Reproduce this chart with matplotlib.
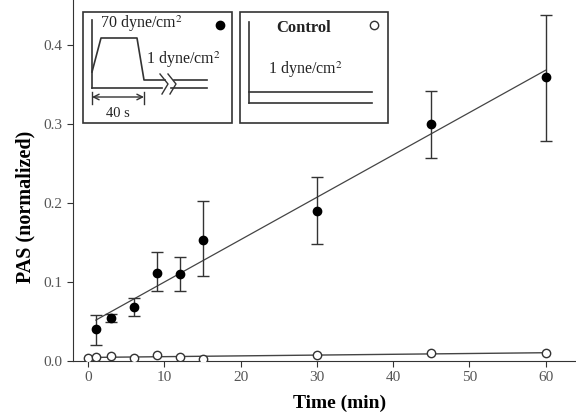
import numpy as np
import matplotlib
matplotlib.use("Agg")
import matplotlib.pyplot as plt
from matplotlib.patches import Rectangle

plt.rcParams['font.family'] = ['Liberation Serif', 'DejaVu Serif']
plt.rcParams['mathtext.fontset'] = 'stix'

# Data
time_shear = [1, 3, 6, 9, 12, 15, 30, 45, 60]
pas_shear = [0.040, 0.055, 0.068, 0.112, 0.110, 0.153, 0.190, 0.300, 0.360]
err_lo = [0.020, 0.005, 0.011, 0.024, 0.022, 0.046, 0.042, 0.043, 0.082]
err_hi = [0.018, 0.005, 0.012, 0.026, 0.022, 0.049, 0.043, 0.042, 0.078]

time_ctrl = [0, 1, 3, 6, 9, 12, 15, 30, 45, 60]
pas_ctrl = [0.004, 0.005, 0.006, 0.004, 0.008, 0.005, 0.003, 0.008, 0.010, 0.010]

xticks = [0, 10, 20, 30, 40, 50, 60]
yticks = [0.0, 0.1, 0.2, 0.3, 0.4]

fig = plt.figure(figsize=(5.76, 4.15), dpi=100)
ax = fig.add_axes([73/576, 1 - 361/415, (576-73)/576, 361/415])

# regression lines
p1 = np.polyfit(time_shear, pas_shear, 1)
xs = np.array([time_shear[0], time_shear[-1]])
ax.plot(xs, np.polyval(p1, xs), color='#444444', lw=0.9, zorder=1)
p2 = np.polyfit(time_ctrl, pas_ctrl, 1)
xc = np.array([time_ctrl[0], time_ctrl[-1]])
ax.plot(xc, np.polyval(p2, xc), color='#444444', lw=1.0, zorder=1)

ax.errorbar(time_shear, pas_shear, yerr=[err_lo, err_hi], fmt='o', color='black',
            ms=6, ecolor='#333333', elinewidth=1, capsize=4, capthick=1, zorder=3)
ax.plot(time_ctrl, pas_ctrl, 'o', mfc='white', mec='#333333', ms=6, mew=1, zorder=3)

ax.set_xlim(-2, 64)
ax.set_ylim(0, 0.457)
ax.set_xticks(xticks)
ax.set_yticks(yticks)
ax.set_yticklabels([f"{v:.1f}" for v in yticks])
for s in ['top', 'right']:
    ax.spines[s].set_visible(False)
for s in ['left', 'bottom']:
    ax.spines[s].set_color('#333333')
ax.tick_params(direction='out', length=4, width=0.8, colors='#333333', labelsize=11,
               labelcolor='#555555')
ax.set_xlabel('Time (min)', fontsize=14, fontweight='bold')
ax.set_ylabel('PAS (normalized)', fontsize=14.5, fontweight='bold')
ax.xaxis.set_label_coords(0.53, -0.116)
ax.yaxis.set_label_coords(-0.095, 0.427)
ax.xaxis.label.set_va('center')
ax.yaxis.label.set_va('center')

# Overlay for inset schematics (pixel coordinates)
ov = fig.add_axes([0, 0, 1, 1], facecolor='none')
ov.set_xlim(0, 576)
ov.set_ylim(415, 0)
ov.axis('off')
lc = '#333333'
ov.add_patch(Rectangle((83, 12), 149, 111, fill=True, facecolor='white', edgecolor=lc, lw=1.2, zorder=2))
ov.add_patch(Rectangle((240, 12), 148, 111, fill=True, facecolor='white', edgecolor=lc, lw=1.2, zorder=2))

# inset 1
ov.plot([92, 92], [20, 88], color=lc, lw=1.2, zorder=3)
ov.plot([92, 162], [88, 88], color=lc, lw=1.2, zorder=3)
ov.plot([171, 207], [88, 88], color=lc, lw=1.2, zorder=3)
ov.plot([92, 101, 137, 144, 165], [72, 38, 38, 80, 80], color=lc, lw=1.2, zorder=3)
ov.plot([174, 207], [80, 80], color=lc, lw=1.2, zorder=3)
ov.plot([160, 168, 162], [74, 84, 94], color=lc, lw=1, zorder=3)
ov.plot([168, 176, 170], [74, 84, 94], color=lc, lw=1, zorder=3)
ov.annotate('', xy=(92, 97), xytext=(144, 97),
            arrowprops=dict(arrowstyle='<->', color=lc, lw=1, shrinkA=0, shrinkB=0), zorder=3)
ov.plot([92, 92], [92, 104], color=lc, lw=1, zorder=3)
ov.plot([144, 144], [92, 104], color=lc, lw=1, zorder=3)
ov.text(100, 34, '70 dyne/cm$^2$', fontsize=11.5, color='#222222', va='bottom', ha='left', zorder=4)
ov.text(146, 70, '1 dyne/cm$^2$', fontsize=11.5, color='#222222', va='bottom', ha='left', zorder=4)
ov.text(106, 113, '40 s', fontsize=10.5, color='#222222', va='center', ha='left', zorder=4)
ov.plot([220], [25], 'o', color='black', ms=6, zorder=4)

# inset 2
ov.plot([249, 249], [22, 103], color=lc, lw=1.2, zorder=3)
ov.plot([249, 372], [103, 103], color=lc, lw=1.2, zorder=3)
ov.plot([249, 372], [92, 92], color=lc, lw=1.2, zorder=3)
ov.text(304, 28, 'Control', fontsize=12, fontweight='bold', color='#222222', ha='center', va='center', zorder=4)
ov.text(305, 70, '1 dyne/cm$^2$', fontsize=11.5, color='#222222', ha='center', va='center', zorder=4)
ov.plot([374], [25], 'o', mfc='white', mec='#333333', ms=6, mew=1, zorder=4)

fig.savefig('out.png', dpi=100)
